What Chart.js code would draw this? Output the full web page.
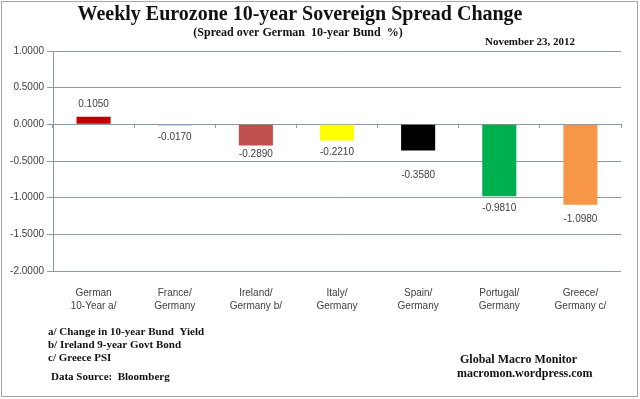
<!DOCTYPE html>
<html lang="en">
<head>
    <meta charset="UTF-8">
    <title>Weekly Eurozone 10-year Sovereign Spread Change</title>
    <script src="https://cdn.jsdelivr.net/npm/chart.js"></script>
    <style>
        body { margin: 0; background: #fff; }
        #chartCanvas { display: block; }
    </style>
</head>
<body>
    <canvas id="chartCanvas" width="640" height="399"></canvas>

    <script>
        // data
        const categories = [
            ['German', '10-Year a/'],
            ['France/', 'Germany'],
            ['Ireland/', 'Germany b/'],
            ['Italy/', 'Germany'],
            ['Spain/', 'Germany'],
            ['Portugal/', 'Germany'],
            ['Greece/', 'Germany c/']
        ];
        const spreadChange = [0.105, -0.017, -0.289, -0.221, -0.358, -0.981, -1.098];
        const yMin = -2;
        const yMax = 1;
        const yStep = 0.5;

        const barColors = ['#C00000', '#8DAACB', '#C0504D', '#FFFF00', '#000000', '#00B050', '#F79646'];
        const gridColor = '#8C9AA6';
        const textColor = '#404040';

        // extra push down for a label (Spain's sits lower in the original)
        const labelShift = [0, 0, -3, 0, 13, 0, 2];

        const frameAndText = {
            id: 'frameAndText',
            beforeDraw(chart) {
                const ctx = chart.ctx;
                ctx.save();
                ctx.fillStyle = '#fff';
                ctx.fillRect(0, 0, chart.width, chart.height);
                ctx.strokeStyle = '#a6a6a6';
                ctx.lineWidth = 1;
                ctx.strokeRect(1.5, 1.5, 636, 395);
                ctx.restore();
            },
            afterDraw(chart) {
                const ctx = chart.ctx;
                ctx.save();
                ctx.fillStyle = '#111';
                ctx.textBaseline = 'middle';

                ctx.textAlign = 'center';
                ctx.font = 'bold 20px "Liberation Serif"';
                ctx.fillText('Weekly Eurozone 10-year Sovereign Spread Change', 300, 15);
                ctx.font = 'bold 12px "Liberation Serif"';
                ctx.fillText('(Spread over German  10-year Bund  %)', 298, 33);

                ctx.textAlign = 'left';
                ctx.font = 'bold 11px "Liberation Serif"';
                ctx.fillText('November 23, 2012', 485, 42);

                ctx.fillText('a/ Change in 10-year Bund  Yield', 48, 332);
                ctx.fillText('b/ Ireland 9-year Govt Bond', 48, 345);
                ctx.fillText('c/ Greece PSI', 48, 358);
                ctx.fillText('Data Source:  Bloomberg', 51, 377);

                ctx.font = 'bold 12px "Liberation Serif"';
                ctx.fillText('Global Macro Monitor', 460, 360);
                ctx.fillText('macromon.wordpress.com', 457, 374);
                ctx.restore();
            }
        };

        const valueLabels = {
            id: 'valueLabels',
            afterDatasetsDraw(chart) {
                const ctx = chart.ctx;
                const meta = chart.getDatasetMeta(0);
                ctx.save();
                ctx.fillStyle = textColor;
                ctx.font = '10px "Liberation Sans"';
                ctx.textAlign = 'center';
                ctx.textBaseline = 'middle';
                meta.data.forEach((bar, i) => {
                    const v = spreadChange[i];
                    const y = v >= 0 ? bar.y - 12 : bar.y + 12 + labelShift[i];
                    ctx.fillText(v.toFixed(4), bar.x, y);
                });
                ctx.restore();
            }
        };

        const ctx = document.getElementById('chartCanvas').getContext('2d');
        new Chart(ctx, {
            type: 'bar',
            data: {
                labels: categories,
                datasets: [{
                    data: spreadChange,
                    backgroundColor: barColors,
                    borderWidth: 0,
                    barPercentage: 0.42,
                    categoryPercentage: 1
                }]
            },
            options: {
                responsive: false,
                animation: false,
                layout: { padding: { top: 51, right: 19, left: 0, bottom: 0 } },
                plugins: {
                    legend: { display: false },
                    tooltip: { enabled: false }
                },
                scales: {
                    x: {
                        grid: { display: false },
                        border: { display: false },
                        ticks: {
                            color: textColor,
                            padding: 8,
                            maxRotation: 0,
                            autoSkip: false,
                            font: { family: 'Liberation Sans', size: 10, lineHeight: 1.3 }
                        },
                        afterFit: (scale) => { scale.height = 128; }
                    },
                    xZero: {
                        type: 'category',
                        position: { y: 0 },
                        offset: true,
                        grid: {
                            offset: true,
                            drawOnChartArea: false,
                            tickLength: 4,
                            color: gridColor
                        },
                        border: { display: false },
                        ticks: { display: false }
                    },
                    y: {
                        min: yMin,
                        max: yMax,
                        grid: { color: gridColor, tickLength: 6 },
                        border: { display: true, color: gridColor },
                        ticks: {
                            stepSize: yStep,
                            color: textColor,
                            padding: 3,
                            font: { family: 'Liberation Sans', size: 10 },
                            callback: (v) => v.toFixed(4)
                        },
                        afterFit: (scale) => { scale.width = 53; }
                    }
                }
            },
            plugins: [frameAndText, valueLabels]
        });
    </script>
</body>
</html>
